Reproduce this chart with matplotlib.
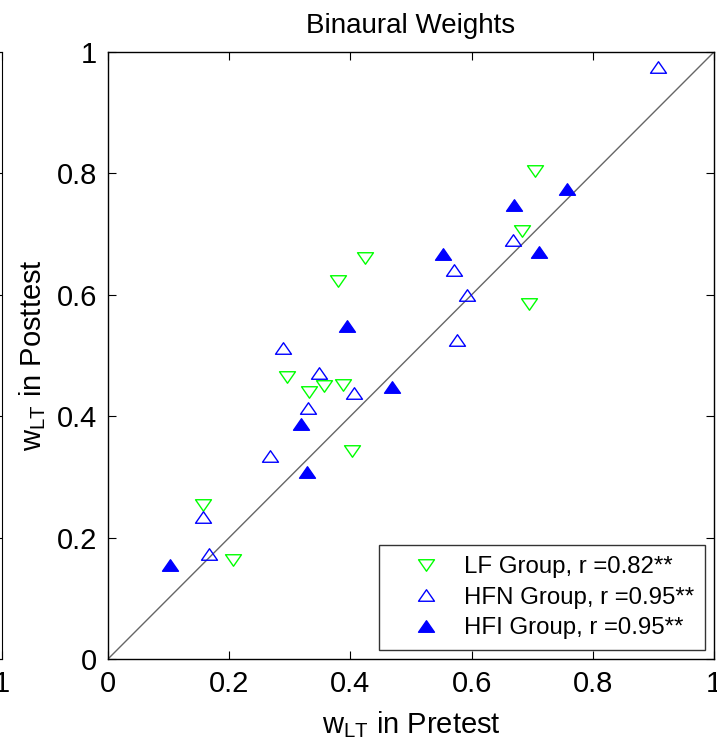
import matplotlib
matplotlib.use("Agg")
import matplotlib.pyplot as plt
from matplotlib.path import Path
import numpy as np

plt.rcParams['font.family'] = ['Liberation Sans', 'DejaVu Sans']
plt.rcParams['mathtext.fontset'] = 'custom'
plt.rcParams['mathtext.rm'] = 'Liberation Sans'
plt.rcParams['mathtext.it'] = 'Liberation Sans'

# Data (pretest, posttest)
lf_pre  = [0.157, 0.207, 0.296, 0.332, 0.356, 0.387, 0.403, 0.424, 0.380, 0.705, 0.683, 0.694]
lf_post = [0.253, 0.163, 0.464, 0.440, 0.449, 0.451, 0.342, 0.660, 0.622, 0.804, 0.705, 0.585]
hfn_pre  = [0.157, 0.167, 0.288, 0.348, 0.406, 0.330, 0.267, 0.668, 0.571, 0.592, 0.576, 0.908]
hfn_post = [0.234, 0.173, 0.512, 0.471, 0.439, 0.413, 0.334, 0.690, 0.641, 0.599, 0.526, 0.976]
hfi_pre  = [0.102, 0.395, 0.319, 0.328, 0.757, 0.670, 0.552, 0.712, 0.469]
hfi_post = [0.155, 0.548, 0.387, 0.308, 0.774, 0.748, 0.667, 0.670, 0.448]
labels = ['LF Group, r =0.82**', 'HFN Group, r =0.95**', 'HFI Group, r =0.95**']
ticks = [0, 0.2, 0.4, 0.6, 0.8, 1]
tick_labels = ['0', '0.2', '0.4', '0.6', '0.8', '1']

up = Path([(-1, -0.72), (1, -0.72), (0, 0.72), (-1, -0.72)], closed=True)
down = Path([(-1, 0.72), (1, 0.72), (0, -0.72), (-1, 0.72)], closed=True)

W, H = 717, 748
fig = plt.figure(figsize=(W/100, H/100), dpi=100)
L, R, T, B = 108, 714, 52, 659
pos = [L/W, (H-B)/H, (R-L)/W, (B-T)/H]
FS = 21

# partial neighbouring axes at left edge (only its right part is visible)
axl = fig.add_axes([-0.9 + 1.5/W, pos[1], 0.9, pos[3]])
axl.set_xlim(0, 1); axl.set_ylim(0, 1)
axl.set_xticks(ticks); axl.set_xticklabels(['', '', '', '', '', '1'])
axl.set_yticks(ticks); axl.set_yticklabels([])
axl.tick_params(direction='in', length=6, top=True, right=True, labelsize=FS, pad=8)

ax = fig.add_axes(pos)
ax.plot([0, 1], [0, 1], color='#666666', lw=1.0, zorder=1)
ms = 11.5
ax.plot(lf_pre, lf_post, linestyle='none', marker=down, markersize=ms,
        markerfacecolor='none', markeredgecolor=(0, 1, 0), markeredgewidth=1.0, label=labels[0], zorder=3)
ax.plot(hfn_pre, hfn_post, linestyle='none', marker=up, markersize=ms,
        markerfacecolor='none', markeredgecolor=(0, 0, 1), markeredgewidth=1.0, label=labels[1], zorder=3)
ax.plot(hfi_pre, hfi_post, linestyle='none', marker=up, markersize=ms,
        markerfacecolor=(0, 0, 1), markeredgecolor=(0, 0, 1), markeredgewidth=1.0, label=labels[2], zorder=3)

ax.set_xlim(0, 1); ax.set_ylim(0, 1)
ax.set_xticks(ticks); ax.set_xticklabels(tick_labels)
ax.set_yticks(ticks); ax.set_yticklabels(tick_labels)
ax.tick_params(direction='in', length=6, top=True, right=True, labelsize=FS, pad=8)
for s in ax.spines.values():
    s.set_linewidth(1.0)

ax.set_title('Binaural Weights', fontsize=20, pad=14)
ax.set_xlabel(r'$\mathregular{w_{LT}}$ in Pretest', fontsize=FS, labelpad=8)
ax.set_ylabel(r'$\mathregular{w_{LT}}$ in Posttest', fontsize=FS, labelpad=6)

leg = ax.legend(loc='lower left', bbox_to_anchor=(0.447, 0.015, 0.538, 0.173), mode='expand',
                fontsize=17.3, frameon=True, fancybox=False, borderaxespad=0,
                handlelength=3.0, handletextpad=0.1, labelspacing=0.35, borderpad=0.45,
                markerscale=1.0)
leg.get_frame().set_edgecolor('black')
leg.get_frame().set_linewidth(1.0)

fig.savefig('out.png', dpi=100)
